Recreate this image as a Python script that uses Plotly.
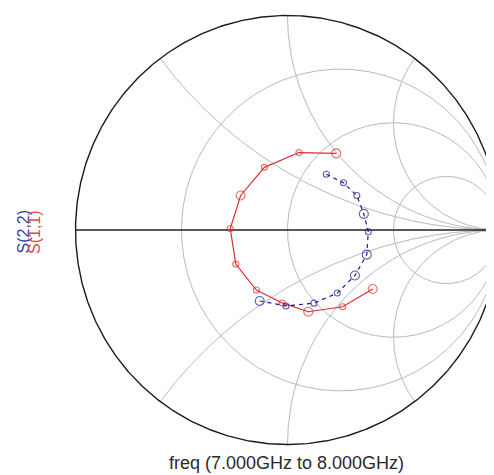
import numpy as np
import plotly.graph_objects as go

# ---- data (reflection coefficient, real / imaginary), 7.0 .. 8.0 GHz ----
freq_ghz = [7.0, 7.1, 7.2, 7.3, 7.4, 7.5, 7.6, 7.7, 7.8, 7.9, 8.0]
s11_re = [0.230, 0.054, -0.109, -0.221, -0.270, -0.244, -0.147, -0.025, 0.098, 0.260, 0.402]
s11_im = [0.357, 0.361, 0.292, 0.161, 0.007, -0.159, -0.280, -0.340, -0.381, -0.358, -0.275]
s22_re = [0.183, 0.264, 0.327, 0.360, 0.381, 0.374, 0.318, 0.235, 0.125, -0.007, -0.131]
s22_im = [0.260, 0.220, 0.161, 0.075, -0.008, -0.115, -0.212, -0.294, -0.341, -0.354, -0.331]

r_circles = [1/3, 1, 3]
x_arcs = [0.5, 1, 2, -0.5, -1, -2]

xlabel = "freq (7.000GHz to 8.000GHz)"

# ---- styles ----
s11_sizes = [9, 6, 6, 9, 6, 6, 6, 6, 9, 6, 9]
s22_sizes = [6, 6, 6, 9, 6, 9, 9, 6, 6, 6, 9]

W, H = 494, 475
L, Rm, T, B = 57, 0, 0, 30
PW, PH = W - L - Rm, H - T - B
SX, SY = 212.0, 214.5
xr = [-(279.5 - L) / SX, (L + PW - 279.5) / SX]
yr = [-(T + PH - 222.0) / SY, (222.0 - T) / SY]

fig = go.Figure()

grid = dict(color="#b9b9b9", width=1)
t = np.linspace(0, 2 * np.pi, 600)
for r in r_circles:
    c, rad = r / (1 + r), 1 / (1 + r)
    fig.add_trace(go.Scatter(x=c + rad * np.cos(t), y=rad * np.sin(t), mode="lines",
                             line=grid, hoverinfo="skip", showlegend=False))
rr = np.tan(np.linspace(0, np.pi / 2 - 1e-4, 800))
for xv in x_arcs:
    z = rr + 1j * xv
    g = (z - 1) / (z + 1)
    fig.add_trace(go.Scatter(x=g.real, y=g.imag, mode="lines", line=grid,
                             hoverinfo="skip", showlegend=False))

# outer circle and real axis
fig.add_trace(go.Scatter(x=np.cos(t), y=np.sin(t), mode="lines",
                         line=dict(color="#1a1a1a", width=1.4), hoverinfo="skip", showlegend=False))
fig.add_trace(go.Scatter(x=[-1, 1], y=[0, 0], mode="lines",
                         line=dict(color="#222222", width=1.4), hoverinfo="skip", showlegend=False))

fig.add_trace(go.Scatter(x=s11_re, y=s11_im, mode="lines+markers", name="S(1,1)",
                         line=dict(color="#d83030", width=1.2),
                         marker=dict(symbol="circle-open", size=s11_sizes, color="#d83030",
                                     line=dict(width=1.1)),
                         text=[f"{f:.3f}GHz" for f in freq_ghz], showlegend=False))
fig.add_trace(go.Scatter(x=s22_re, y=s22_im, mode="lines+markers", name="S(2,2)",
                         line=dict(color="#1c1c8c", width=1.2, dash="4px,4px"),
                         marker=dict(symbol="circle-open", size=s22_sizes, color="#1c1c8c",
                                     line=dict(width=1.1)),
                         text=[f"{f:.3f}GHz" for f in freq_ghz], showlegend=False))


def px(X):
    return (X - L) / PW


def py(Y):
    return (T + PH - Y) / PH


font = "Arial, Liberation Sans, sans-serif"
fig.add_annotation(text=xlabel, xref="paper", yref="paper", x=px(278), y=py(455),
                   showarrow=False, xanchor="center", yanchor="middle",
                   font=dict(family=font, size=18, color="#2a2a2a"))
fig.add_annotation(text="S(2,2)", xref="paper", yref="paper", x=px(14.5), y=py(224),
                   showarrow=False, textangle=-90, xanchor="center", yanchor="middle",
                   font=dict(family=font, size=16, color="#3040a8"))
fig.add_annotation(text="S(1,1)", xref="paper", yref="paper", x=px(26), y=py(224),
                   showarrow=False, textangle=-90, xanchor="center", yanchor="middle",
                   font=dict(family=font, size=16, color="#e04848"))

fig.update_xaxes(range=xr, visible=False, fixedrange=True)
fig.update_yaxes(range=yr, visible=False, fixedrange=True)
fig.update_layout(width=W, height=H, margin=dict(l=L, r=Rm, t=T, b=B),
                  paper_bgcolor="white", plot_bgcolor="white")

fig.write_html("out.html")
